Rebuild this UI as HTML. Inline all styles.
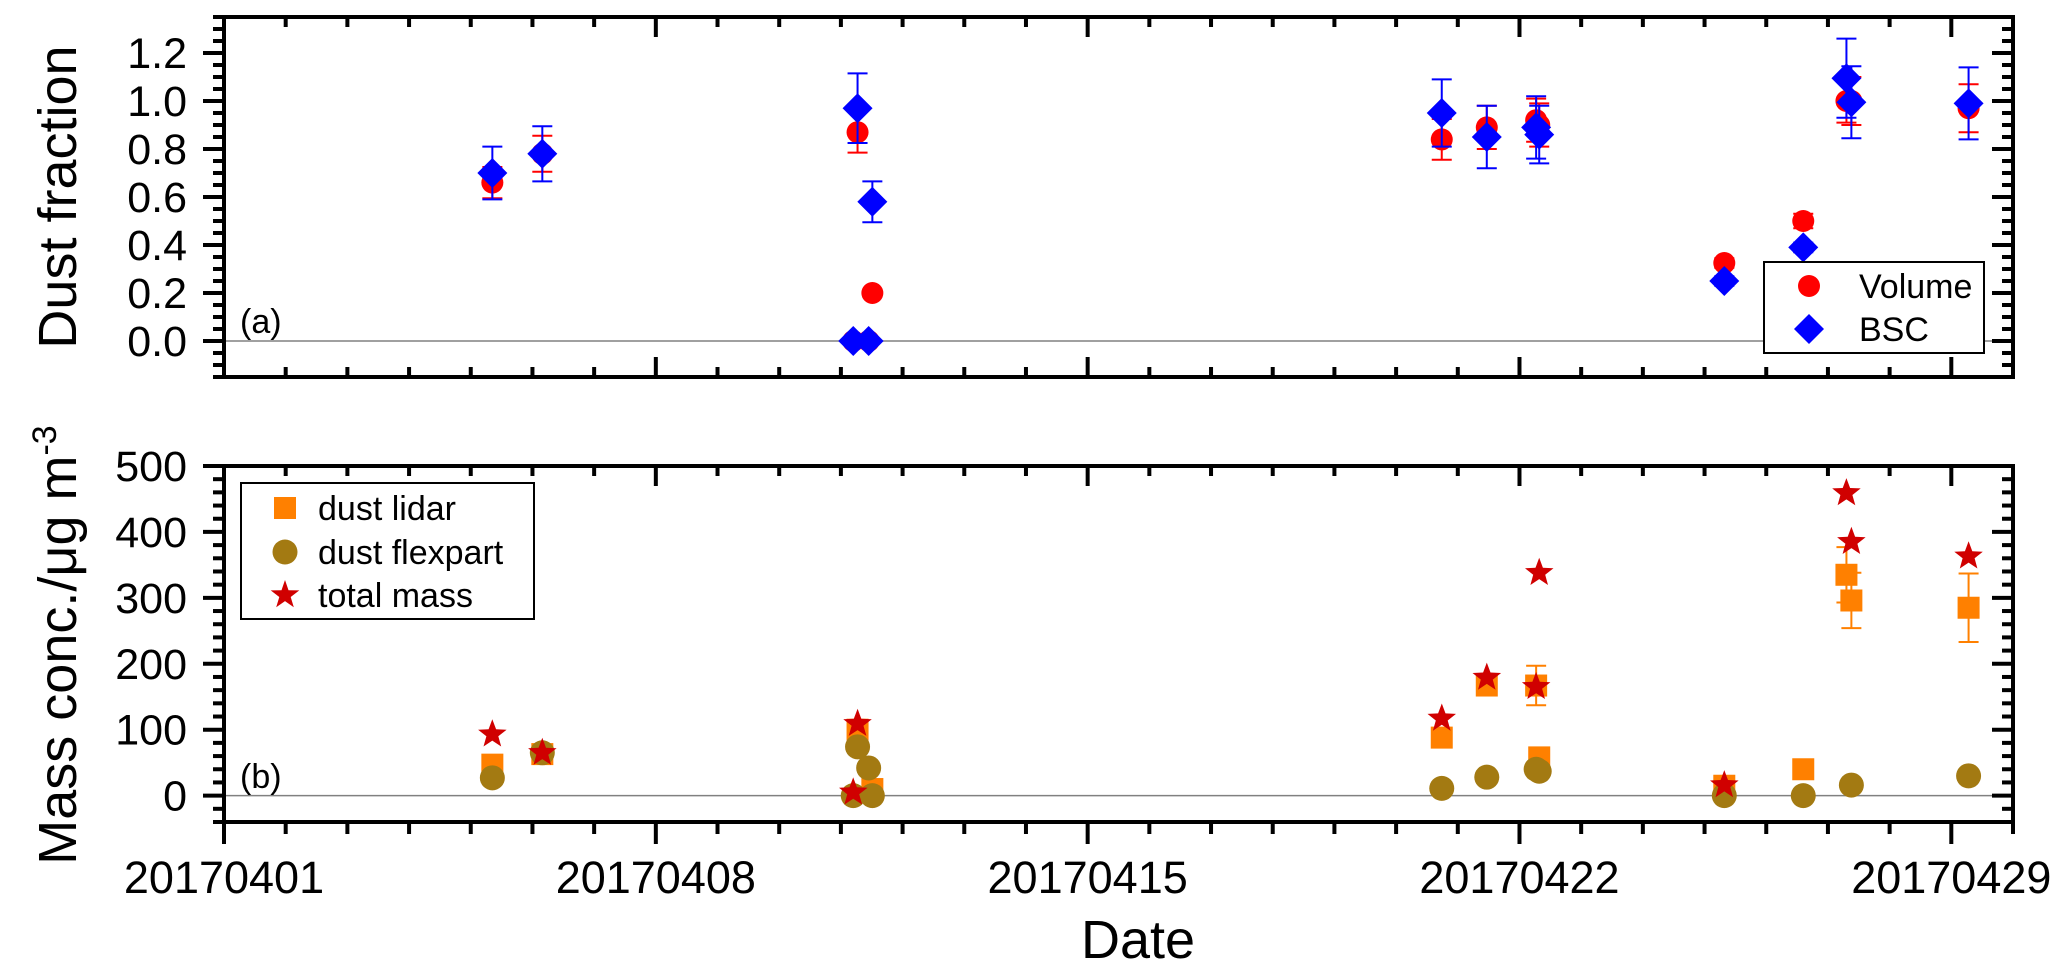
<!DOCTYPE html>
<html><head><meta charset="utf-8"><style>
html,body{margin:0;padding:0;background:#fff;}
svg{display:block;font-family:"Liberation Sans",Arial,sans-serif;}
</style></head><body>
<svg id="chart" width="2067" height="976" viewBox="0 0 2067 976" xmlns="http://www.w3.org/2000/svg"></svg>
<script>
// ---- data ----
const volDays = [5.35,6.16,11.27,11.2,11.45,11.51,20.74,21.47,22.27,22.32,25.32,26.6,27.3,27.38,29.28];
const volVals = [0.66,0.78,0.87,0,0,0.20,0.84,0.89,0.92,0.90,0.325,0.50,1.0,1.0,0.97];
const volErr  = [0.065,0.075,0.085,0,0,0,0.085,0.09,0.09,0.09,0.02,0.03,0.09,0.1,0.1];
const bscDays = [5.35,6.16,11.27,11.2,11.45,11.51,20.74,21.47,22.27,22.32,25.32,26.6,27.3,27.38,29.28];
const bscVals = [0.70,0.78,0.97,0,0,0.58,0.95,0.85,0.89,0.86,0.25,0.39,1.095,0.995,0.99];
const bscErr  = [0.11,0.115,0.145,0,0,0.085,0.14,0.13,0.13,0.12,0.02,0.02,0.165,0.15,0.15];
const lidarDays = [5.35,6.16,11.27,11.51,20.74,21.47,22.27,22.32,25.32,26.6,27.3,27.38,29.28];
const lidarVals = [47,63,100,10,88,167,167,58,15,40,335,296,285];
const lidarErr  = [0,0,0,8,0,0,30,0,5,0,42,42,52];
const flexDays = [5.35,6.16,11.27,11.45,11.2,11.51,20.74,21.47,22.27,22.32,25.32,26.6,27.38,29.28];
const flexVals = [27,65,74,42,0,0,11,28,40,37,0,0,16,30];
const totalDays = [5.35,6.16,11.27,11.2,20.74,21.47,22.27,22.32,25.32,27.3,27.38,29.28];
const totalVals = [96,68,112,8,120,182,168,341,19,462,388,366];
const xTickLabels = ["20170401","20170408","20170415","20170422","20170429"];
const yTopTicks = [0.0,0.2,0.4,0.6,0.8,1.0,1.2];
const yBotTicks = [0,100,200,300,400,500];

const NS="http://www.w3.org/2000/svg";
const svg=document.getElementById('chart');
function mk(tag,attrs,parent){const e=document.createElementNS(NS,tag);for(const k in attrs)e.setAttribute(k,attrs[k]);(parent||svg).appendChild(e);return e;}

const X0=224,X1=2013,D0=1,D1=30;
function xs(d){return X0+(d-D0)*(X1-X0)/(D1-D0);}
const pTop={y0:17,y1:377,vmin:-0.15,vmax:1.35};
const pBot={y0:466,y1:822,vmin:-40,vmax:500};
function ys(p,v){return p.y1-(v-p.vmin)*(p.y1-p.y0)/(p.vmax-p.vmin);}

function axes(p,name,yticks,minorStep,fmt,bottomOut,showLabels){
  const g=mk('g',{});
  
  
  const z=mk('line',{x1:X0,x2:X1,y1:ys(p,0),y2:ys(p,0),stroke:'#808080','stroke-width':1.5},g);
  
  
  for(let d=1;d<=30;d++){
    const x=xs(d),major=((d-1)%7===0);const L=major?20:10;
    mk('line',{x1:x,x2:x,y1:p.y0,y2:p.y0+L,stroke:'#000','stroke-width':4},g);
    if(bottomOut) mk('line',{x1:x,x2:x,y1:p.y1,y2:p.y1+L+2,stroke:'#000','stroke-width':4},g);
    else mk('line',{x1:x,x2:x,y1:p.y1,y2:p.y1-L,stroke:'#000','stroke-width':4},g);
  }
  const step=minorStep;
  const n=Math.round((p.vmax-p.vmin)/step);
  for(let k=0;k<=n;k++){
    const vv=p.vmin+k*step;
    const y=ys(p,vv);const major=yticks.some(t=>Math.abs(t-vv)<1e-6);const L=major?21:11;
    mk('line',{x1:X0,x2:X0-L,y1:y,y2:y,stroke:'#000','stroke-width':4},g);
    mk('line',{x1:X1,x2:X1-L,y1:y,y2:y,stroke:'#000','stroke-width':4},g);
  }
  yticks.forEach(t=>{
    const tx=mk('text',{x:187,y:ys(p,t)+15,'font-size':43,'text-anchor':'end',fill:'#000'},g);
    tx.textContent=fmt(t);
    
    
  });
  const r=mk('rect',{x:X0,y:p.y0,width:X1-X0,height:p.y1-p.y0,fill:'none',stroke:'#000','stroke-width':4},g);
  
  
  if(showLabels){
    xTickLabels.forEach((l,i)=>{
      const tx=mk('text',{x:xs(1+7*i),y:893,'font-size':45,'text-anchor':'middle',fill:'#000'},g);
      tx.textContent=l;
      
      
    });
  }
}
axes(pTop,'top',yTopTicks,0.05,v=>v.toFixed(1),false,false);
axes(pBot,'bottom',yBotTicks,20,v=>String(v),true,true);

function errbar(g,x,y1,y2,color){
  mk('line',{x1:x,x2:x,y1:y1,y2:y2,stroke:color,'stroke-width':2},g);
  mk('line',{x1:x-10,x2:x+10,y1:y1,y2:y1,stroke:color,'stroke-width':2},g);
  mk('line',{x1:x-10,x2:x+10,y1:y2,y2:y2,stroke:color,'stroke-width':2},g);
}
function starPts(cx,cy,R){const r=R*0.42;let s=[];for(let i=0;i<10;i++){const a=-Math.PI/2+i*Math.PI/5;const rr=i%2?r:R;s.push((cx+rr*Math.cos(a)).toFixed(1)+','+(cy+rr*Math.sin(a)).toFixed(1));}return s.join(' ');}

const gVol=mk('g',{});


volDays.forEach((d,i)=>{
  const x=xs(d),y=ys(pTop,volVals[i]);
  if(volErr[i]>0) errbar(gVol,x,ys(pTop,volVals[i]+volErr[i]),ys(pTop,volVals[i]-volErr[i]),'#ff0000');
  const c=mk('circle',{cx:x,cy:y,r:11,fill:'#ff0000'},gVol);
  
  
});
const gBsc=mk('g',{});


bscDays.forEach((d,i)=>{
  const x=xs(d),y=ys(pTop,bscVals[i]);
  if(bscErr[i]>0) errbar(gBsc,x,ys(pTop,bscVals[i]+bscErr[i]),ys(pTop,bscVals[i]-bscErr[i]),'#0000ff');
  const p=mk('polygon',{points:`${x},${y-15} ${x+15},${y} ${x},${y+15} ${x-15},${y}`,fill:'#0000ff'},gBsc);
  
  
});

const gL=mk('g',{});


lidarDays.forEach((d,i)=>{
  const x=xs(d),y=ys(pBot,lidarVals[i]);
  if(lidarErr[i]>0) errbar(gL,x,ys(pBot,lidarVals[i]+lidarErr[i]),ys(pBot,lidarVals[i]-lidarErr[i]),'#ff8000');
  const s=mk('rect',{x:x-11,y:y-11,width:22,height:22,fill:'#ff8000'},gL);
  
  
});
const gF=mk('g',{});


flexDays.forEach((d,i)=>{
  const c=mk('circle',{cx:xs(d),cy:ys(pBot,flexVals[i]),r:12.5,fill:'#a37a12'},gF);
  
  
});
const gT=mk('g',{});


totalDays.forEach((d,i)=>{
  const p=mk('polygon',{points:starPts(xs(d),ys(pBot,totalVals[i])+2,15),fill:'#d00000'},gT);
  
  
});
</script>
<svg style="position:absolute;left:0;top:0" width="2067" height="976" xmlns="http://www.w3.org/2000/svg">
  <text x="240" y="333" font-size="34" font-family="Liberation Sans, sans-serif">(a)</text>
  <text x="240" y="788" font-size="34" font-family="Liberation Sans, sans-serif">(b)</text>
  <text transform="translate(76,197) rotate(-90)" text-anchor="middle" font-size="54" font-family="Liberation Sans, sans-serif">Dust fraction</text>
  <text transform="translate(76,645) rotate(-90)" text-anchor="middle" font-size="54" font-family="Liberation Sans, sans-serif">Mass conc./μg m<tspan dy="-20" font-size="34">-3</tspan></text>
  <text x="1138" y="958" text-anchor="middle" font-size="54" font-family="Liberation Sans, sans-serif">Date</text>
  <g>
    <rect x="1764" y="262" width="220" height="91" fill="#fff" stroke="#000" stroke-width="2"/>
    <circle cx="1809" cy="286" r="11" fill="#ff0000"/>
    <text x="1859" y="298" font-size="34" font-family="Liberation Sans, sans-serif">Volume</text>
    <polygon points="1809,314 1824,329 1809,344 1794,329" fill="#0000ff"/>
    <text x="1859" y="341" font-size="34" font-family="Liberation Sans, sans-serif">BSC</text>
  </g>
  <g>
    <rect x="241" y="483" width="293" height="136" fill="#fff" stroke="#000" stroke-width="2"/>
    <rect x="274" y="497" width="22" height="22" fill="#ff8000"/>
    <text x="318" y="520" font-size="34" font-family="Liberation Sans, sans-serif">dust lidar</text>
    <circle cx="285" cy="552" r="12.5" fill="#a37a12"/>
    <text x="318" y="564" font-size="34" font-family="Liberation Sans, sans-serif">dust flexpart</text>
    <polygon points="285,580 288.5,590.2 299.3,590.4 290.7,597 293.8,607.3 285,601.1 276.2,607.3 279.3,597 270.7,590.4 281.5,590.2" fill="#d00000"/>
    <text x="318" y="607" font-size="34" font-family="Liberation Sans, sans-serif">total mass</text>
  </g>
</svg>
</body></html>
